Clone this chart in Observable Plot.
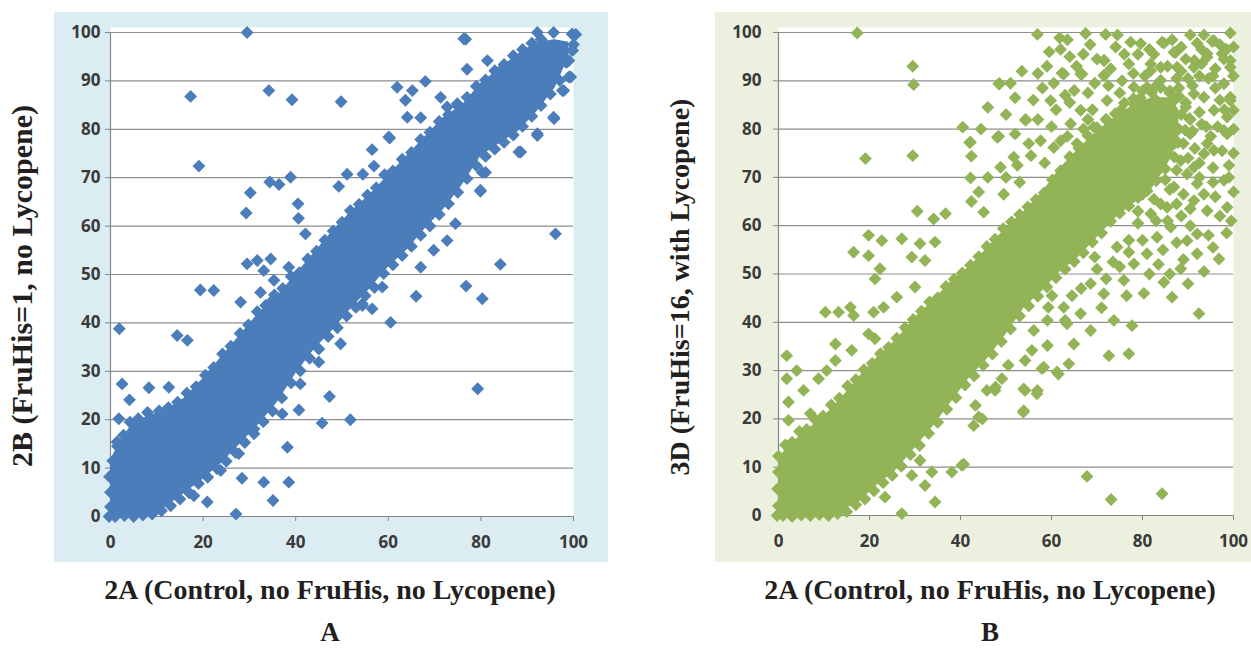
<!DOCTYPE html>
<html>
<head>
<meta charset="utf-8">
<script src="https://cdn.jsdelivr.net/npm/d3@7"></script>
<script src="https://cdn.jsdelivr.net/npm/@observablehq/plot@0.6"></script>
<style>
  html, body { margin: 0; padding: 0; background: #fff; }
  body { position: relative; width: 1251px; height: 648px; overflow: hidden; }
  .panel { position: absolute; }
  #titles { position: absolute; left: 0; top: 0; pointer-events: none; }
</style>
</head>
<body>
<div id="panelA" class="panel" style="left:54px;top:12px"></div>
<div id="panelB" class="panel" style="left:715px;top:12px"></div>
<script>
// Axis ticks shared by both scatter plots
const xTicks = [0, 20, 40, 60, 80, 100];
const yTicks = [0, 10, 20, 30, 40, 50, 60, 70, 80, 90, 100];

// Axis titles and panel letters
const xTitle = "2A (Control, no FruHis, no Lycopene)";
const yTitleA = "2B (FruHis=1, no Lycopene)";
const yTitleB = "3D (FruHis=16, with Lycopene)";
const panelLetters = ["A", "B"];

// Panel A: solid interior of the point cloud (lower / upper edge at each x)
const bandAx  = [0, 2, 5, 9, 12, 16, 20, 24, 28, 32, 36, 40, 44, 48, 52, 56, 60, 64, 68, 72, 76, 80, 84, 88, 92, 96, 99];
const bandAlo = [0, 0, 0, 0, 2, 4.8, 7.7, 11, 15, 19, 23.5, 29.5, 34.5, 38.5, 43, 47, 51.5, 55, 59.5, 63.5, 68.5, 74.5, 77, 79.5, 83.5, 88.5, 95];
const bandAhi = [11.5, 15.5, 19.5, 21, 22, 24.5, 28.5, 33, 37.5, 42, 45.5, 50, 54.5, 59, 63, 66.5, 70.5, 74.5, 78.5, 82.5, 85, 89.5, 92.5, 95.5, 98, 98.5, 98];

// Panel A: genes along the upper and lower rim of the cloud [2A, 2B]
const rimAupper = [
  [0,2],[0,5],[-0.2,8.2],[0.5,11.5],[1.5,14.5],[2.8,16.8],[4.2,19.5],[6,20.2],[8,21.5],[10.5,21.8],[12.5,22.5],[14.5,23.6],[16.5,25.5],[18.5,26.8],
  [20.5,29.2],[22.3,30.8],[24.2,33.6],[26,35.2],[28,37.8],[29.8,39.6],[31.7,42.3],[33.5,43.6],[35.4,45.8],[37.2,47.1],[39,49.6],[40.8,50.4],
  [42.6,53.2],[44.5,54.8],[46.3,57.1],[48.1,59],[50,60.8],[51.8,63.2],[53.7,64.5],[55.5,66.4],[57.4,67.9],[59.2,70.6],[61,71.4],[63,73.8],
  [65,75.2],[67,77.9],[69,79.4],[71,81.6],[73,83],[75,84.8],[77,86.6],[79,88.9],[81,90.2],[83,92.1],[85,93.4],[87,95.2],[89,96.5],[91,97.8],[93,98.6]
];
const rimAlower = [
  [-0.3,0],[1,0],[3,0.2],[5,0],[7,0.3],[9,0.5],[11,1.2],[13,2.2],[15,3.6],[17,4.9],[19,6.8],[21,8.1],[23,9.9],[25,11.4],[27,13.2],[29,15.3],
  [31,17.1],[33,19.6],[35,21.8],[37,24.5],[39,27.6],[41,30.1],[43,32.7],[45,34.6],[47,37.2],[49,39],[51,41.4],[53,43.2],[55,45.6],[57,47.3],
  [59,50.2],[61,52],[63,53.9],[65,55.8],[67,58.1],[69,60],[71,62.4],[73,64.6],[75,67],[77,69.8],[79,72.5],[81,74.4],[83,75.9],[85,77.3],
  [87,78.8],[89,80.6],[91,82.7],[93,84.9],[95,87.3],[97,90.1],[99,94.2],[100,97.5],[100.5,99.6]
];

// Panel A: individual genes away from the core [2A, 2B]
const pointsA = [
  [29.5,100],[17.3,86.8],[34.2,88],[39.2,86.1],[19.1,72.4],[30.2,66.9],[34.4,69.1],[36.4,68.6],[38.9,70.1],[40.5,64.6],[29.3,62.7],[40.6,61.6],
  [76.7,98.6],[49.8,85.7],[61.9,88.7],[65.2,88],[68,89.9],[63.7,86],[64.1,82.5],[67,82.4],[60.3,78.2],[56.5,75.8],[56.9,72.4],[51.1,70.7],[54.5,70.7],[49.3,68.2],[77,92.4],
  [96.1,58.4],[84.2,52.1],[76.8,47.6],[80.3,45],[66,45.5],[60.5,40.1],[79.9,67.2],[81,71.1],[79.3,26.4],
  [99.8,96.3],[99,90.8],[98.3,93.9],[95.8,82.2],[92.2,78.7],[88.6,75.3],[97.6,88],[69.8,55],[72.7,57],[74.5,60.5],[67,51.5],[56.5,42.9],[54.4,43.9],[49.7,35.7],
  [42.1,58.4],[29.5,52.2],[31.7,52.9],[34.6,53.2],[33.1,50.8],[35.3,48.8],[38.5,51.5],[19.4,46.8],[22.3,46.7],[28.1,44.3],[32.4,46.3],[34.6,44.3],
  [1.9,38.8],[14.4,37.4],[16.6,36.4],[2.5,27.4],[8.3,26.6],[12.6,26.7],[4.1,24.1],[1.8,20.2],[1.4,15.4],
  [38.2,14.3],[28.4,7.9],[33.1,7.1],[38.5,7.1],[35.1,3.3],[27.1,0.5],[20.9,3],[45.7,19.3],[51.8,20],[47.3,24.8],[40.7,22],
  [58.7,47.4],[54.4,43.6],[45,31.9],[41,27.4],[37.1,21.2],[31,18.1],[27.7,13],[21.6,12.3],[23.8,9.5],[18,4.3],
  [92.2,100],[95.7,100],[99.7,99.7],[99.7,96.3],[98.6,93.9],[99.4,90.8],[97.9,88],[95.7,82.5],[92.2,79.1],[88.2,75.3],[80.3,71.1],[79.9,67.4],
  [76.3,98.7],[81.4,94.2],[84.2,92.1],[87.1,93.5],[72.7,84.6],[74.9,85.3],[71.3,86.6],[60.1,78.4]
];

// Panel B: solid interior of the point cloud (lower / upper edge at each x)
const bandBx  = [0, 3, 6, 10, 14, 18, 22, 26, 30, 34, 38, 42, 46, 50, 54, 58, 62, 66, 70, 74, 78, 82, 86, 88];
const bandBlo = [0, 0, 0, 0, 1, 3, 6.5, 9.5, 14, 18.5, 23.5, 28.5, 32.5, 37.5, 43, 46.5, 50.5, 53.5, 57.5, 61.5, 64.5, 67.5, 73.5, 78];
const bandBhi = [12, 15, 17.5, 20.5, 24.5, 29, 33, 36.5, 41, 44.5, 48.5, 51.5, 55.5, 59.5, 63, 67, 72, 76, 79.5, 82.5, 85, 86.5, 86.5, 84];

// Panel B: genes along the upper and lower rim of the cloud [2A, 3D]
const rimBupper = [
  [0,2],[-0.2,5.5],[0,9],[0,12.3],[1.5,14.6],[3,15.2],[4.6,17.4],[6.2,17.8],[8,19.9],[9.8,20.6],[11.6,22.9],[13.4,24.3],[15.2,26.8],[17,28.1],
  [18.8,30.2],[20.6,31.5],[22.4,33.5],[24.2,34.8],[26,36.7],[27.8,38.9],[29.6,40.6],[31.4,42.3],[33.2,44.2],[35,45.1],[36.8,47.4],[38.6,48.9],
  [40.4,50.2],[42.2,51.8],[44,53.6],[45.8,55.7],[47.6,57.2],[49.4,59.4],[51.2,60.8],[53,62.3],[54.8,63.9],[56.6,65.4],[58.4,66.8],[60.2,69.5],
  [62,71.4],[64,74.3],[66,76.1],[68,78.6],[70,80.3],[72,82],[74,83.2],[76,85.4],[78,86.3],[80,87.9],[82,87.6],[84,88.6],[86,87.9],[88,86.8],
  [89.5,84.6],[90.3,82.2],[89.4,79.8],[87.8,77.2]
];
const rimBlower = [
  [-0.3,0],[1,0],[3,-0.2],[5,0.1],[7,0],[9,0.2],[11,0],[13,0.4],[15,0.8],[17,2.2],[19,3.4],[21,5.1],[23,6.8],[25,8.3],[27,10.2],[29,12.6],
  [31,14.5],[33,17],[35,19.3],[37,22],[39,24.4],[41,27],[43,28.9],[45,31.1],[47,33.4],[49,36],[51,38.6],[53,41.3],[55,43.4],[57,45.4],
  [59,47.3],[61,49.2],[63,51],[65,52.6],[67,54.4],[69,56.6],[71,58.5],[73,60.9],[75,62.6],[77,64.1],[79,65.8],[81,67.2],[83,69.3],
  [85,71.8],[87,74.2],[89,77],[91,79.6]
];

// Panel B: individual genes away from the core [2A, 3D]
const pointsB = [
  [17.3,99.9],[29.5,93],[29.7,89.2],[19.1,73.9],[29.5,74.5],[40.5,80.4],[42,77.2],[42.4,74.4],[42.2,69.9],[42.4,65],[30.5,63],[34.1,61.4],[36.7,62.5],
  [56.9,99.6],[61.8,98.9],[71.9,99.6],[74.1,97],[77.4,98],[79.6,97.7],[84.7,97.8],[86.9,95.9],[92,97.8],[95.3,98.2],[99.3,99.9],[99.3,94.2],[97.5,95.6],
  [94.2,94.9],[91.4,94.2],[71.6,94.2],[71.6,91.1],[62.3,91.6],[66.4,91.4],[48.4,89.4],[59.8,85.9],[54.3,81.8],[48.1,78.3],[81.8,92.1],[78.1,88.7],[87.6,92.8],
  [97.9,69.4],[98.6,63.8],[96.8,53.1],[92.4,41.8],[92,54.2],[89.8,56.9],[88.4,51.1],[84.7,48.3],[86.5,45.2],[77.7,39.3],[73.7,40.4],[77,33.5],[72.6,33.1],
  [80.3,46],[68.6,38.3],[64.9,35.5],[59.1,35.2],[63.8,31.4],[61.2,29.7],[58.3,30.7],[53.9,26.2],[56.9,25.9],[53.9,21.7],[47.7,26.6],[63.4,39.7],
  [92,68.7],[93.5,74.9],[94.2,77],[97.9,79.7],[99.3,86.6],[100,83.9],
  [73.1,3.3],[67.8,8.1],[84.3,4.5],[40.7,10.6],[42.9,18.6],[44.8,20],[43.3,22.8],
  [45.1,62.8],[19.8,58],[22.7,56.9],[16.5,54.5],[19.8,53.8],[27.1,57.3],[31.1,56.3],[34.4,56.6],[22.3,51.1],[21.2,49],[29.3,53.5],[32.2,52.8],
  [10.3,42.1],[13.2,42.1],[15.8,43.1],[16.5,41.4],[20.9,42.1],[23.1,43.1],[26,45.2],[30,47.3],[19.8,37.6],[21.2,36.6],[12.5,35.5],[16.1,34.2],
  [1.8,33.1],[4,30],[1.8,28.3],[8.8,28.3],[10.6,30],[12.5,32.1],[5.5,25.9],[2.2,23.5],[2.2,19.7],[7,21.1],
  [61.5,29.3],[57.9,30.4],[54.2,25.9],[56.8,25.2],[53.8,21.4],[55.7,34.2],[54.2,32.1],[50.5,31.1],[49.1,28.3],[45.8,25.9],[47.6,25.9],[44,20.4],
  [40.3,10.4],[38.1,9],[33.7,9],[32.2,6.2],[34.4,2.8],[27.1,0.4],[29.3,8.3],[31.1,11.4],[23.4,3.8],[60.1,45.5],[59.3,43.1],[63,40.4],
  [84.3,98],[87.3,95.9],[95.7,98.3],[71.5,94.2],[62.7,91.4],[66.7,91.4],[71.5,91.1],[48.6,89.4],[54.3,82],[48.4,78.5],[42.2,77.3],[51.7,74.2],[48.8,72.1],
  [57.6,77.6],[60.5,76.2],[81.8,93.5],[84,92.8],[91.3,92.8],[94.2,95.6],[97.9,94.5],[99.3,92.8],[97.9,89.4],[99.3,85.9],[95.7,83.9],[98.6,82.5],[98.6,79],
  [95.7,75.6],[91.3,72.1],[88.4,73.5],[89.8,70.7],[86.2,80.4],[90.5,79],[86.9,85.9],[91.3,87.3],[93.5,86.6],[81,88.7],[84,90.1],[78.1,85.2],[75.2,83.9],
  [72.2,85.9],[69.3,80.4],[73.7,79.7],[78.1,79],[82.5,77.6],[84,74.2],[79.6,73.5],[75.2,74.2],[71.5,74.9],[66.4,83.9],[64.2,81.1],[62,77.6],[65.6,77],
  [86.9,68],[91.3,65.2],[94.2,63.1],[81,69.4],[84,64.5],
  [81,54.2],[83.2,57.6],[86.2,59.7],[78.1,52.1],[75.9,48.7],[68.6,48],[71.5,45.9],[66.4,41.8],[62.7,43.1],[59.1,40.4],[56.1,38.3],[85.4,63.8],[81.8,62.5],
  [92,58.3],[78.8,70.7],[75.9,68],[72.2,71.4],[68.6,70],[64.9,63.8],[70.8,60.4],[74.4,55.6],[71.5,65.2],
  [56,86],[58,88.5],[60.5,89.5],[63,87],[65,88],[68,87.5],[69.5,89.5],[73,92.5],[75.5,90],[77,93.5],[79,95.5],[80.5,91],[82.5,95.5],[85.5,93],
  [88.5,97],[89.5,94.5],[90,90.5],[92.5,91],[93,96.5],[96,92.5],[97,97.5],[98.5,96.5],[100,97],[100,91],[96,88.5],[94.5,90.5],[88,88.5],[83,86],
  [80,83],[77,81.5],[74,77],[70.5,77],[67,80],[63.5,78.5],[60,80.5],[57,82],[52,79],[50,83],[46,84.5],[44.5,80],[52,86.5],[85,82.5],[88.5,83],
  [92.5,83.5],[96.5,80.5],[100,80],[94,80.5],[91.5,76],[87,77],[83,71],[86,67.5],[89,66.5],[92.5,70],[95.5,69],[99,72.5],[96,66],[100,67],
  [88.5,62],[83,61],[79,60.5],[77,57],[90.5,60],[94.5,58],[98.5,58.5],[93.5,50.5],[90,48],[81.5,50],[75,51.5],[70,51],[66.5,47],[72,49],
  [67.5,66],[63,67.5],[66,71.5],[70,73],[74,71],[80,66.5],[77.5,76.5],[81,80.5],[84.5,85],[79.5,86.5],[75,87.5],[72.5,89],[69,84],[70,94.5],
  [67,95.5],[64,95],[59,93],[53.5,92],[51,89.5],[55,77],[58.5,73],[46,70],[44,67],[49.5,66.5],[53,69],
  [62,96.5],[65.5,93],[68.5,97.5],[76,95.5],[78,91.5],[81.5,96.5],[83,89],[86,87.5],[87.5,90.5],[89.5,85.5],[91,89],[93,93.5],[95.5,91],[97,86],
  [98,84],[95,78.5],[93,81],[90.5,82],[88,80],[85.5,78],[82,74.5],[80.5,71],[78,68],[76.5,65.5],[79,63],[82.5,65.5],[85,69.5],[87.5,71.5],
  [90,74],[92.5,73],[95.5,72],[97.5,75.5],[100,75],[99,70],[97,62],[93.5,66.5],[90.5,63.5],[87.5,64.5],[85.5,61],[87.5,56.5],[84.5,55],[80,57],
  [77,54.5],[73.5,52.5],[69.5,53.5],[95.5,55.5],[99.5,61],[89,53],[83.5,52],[86,50],[76.5,45.5],[71,43],[64.5,45.5],[88.5,92],[86.5,98.5],
  [90.5,99.5],[93.5,99.5],[74.5,99.5],[67.5,99.8],[63.5,98.5],[59.5,96],[57,91.5],[61,84],[64,85.5],[68,82],[72,82],[55.5,74.5],[52.5,72.5],[50,70]
];

const toBand = (xs, lo, hi) => xs.map((x, i) => ({x, lo: lo[i], hi: hi[i]}));
const toPoints = (...lists) => lists.flat().map(([x, y]) => ({x, y}));

const axisColor = "#868686";
const gridColor = "#8e8e8e";
const labelColor = "#3a3a3a";

function scatterPanel({points, band, color, background, width, marginLeft, marginRight, marginBottom, yPad}) {
  return Plot.plot({
    width,
    height: 550,
    marginLeft,
    marginRight,
    marginTop: 20,
    marginBottom,
    style: {
      background,
      color: labelColor,
      fontFamily: "'Open Sans', 'DejaVu Sans', sans-serif",
      fontSize: "17px",
      fontWeight: "bold",
      overflow: "visible"
    },
    x: {domain: [0, 100], label: null},
    y: {domain: [0, 100], label: null},
    marks: [
      Plot.frame({fill: "white", stroke: "none", insetTop: -5}),
      Plot.gridY(yTicks.filter((d) => d > 0), {stroke: gridColor, strokeOpacity: 1, strokeWidth: 1.2}),
      Plot.axisY(yTicks, {tickSize: 5, tickPadding: yPad, stroke: axisColor, fill: labelColor, fontSize: 17, fontWeight: "bold"}),
      Plot.axisX(xTicks, {tickSize: 5, tickPadding: 14, stroke: axisColor, fill: labelColor, fontSize: 17, fontWeight: "bold"}),
      Plot.ruleX([0], {stroke: axisColor, strokeWidth: 1.2}),
      Plot.ruleY([0], {stroke: axisColor, strokeWidth: 1.2}),
      Plot.areaY(band, {x: "x", y1: "lo", y2: "hi", fill: color}),
      Plot.dot(points, {x: "x", y: "y", symbol: "diamond2", r: 5.8, fill: color, stroke: "none"})
    ]
  });
}

document.getElementById("panelA").append(scatterPanel({
  points: toPoints(rimAupper, rimAlower, pointsA),
  band: toBand(bandAx, bandAlo, bandAhi),
  color: "#4a7dba",
  background: "#dbecf3",
  width: 554,
  marginLeft: 56,
  marginRight: 35,
  marginBottom: 46,
  yPad: 5
}));

document.getElementById("panelB").append(scatterPanel({
  points: toPoints(rimBupper, rimBlower, pointsB),
  band: toBand(bandBx, bandBlo, bandBhi),
  color: "#92b456",
  background: "#ecf1df",
  width: 536,
  marginLeft: 63,
  marginRight: 18,
  marginBottom: 47,
  yPad: 12
}));

// Serif axis titles and panel letters around the two plots
const titles = d3.select("body").append("svg")
  .attr("id", "titles")
  .attr("width", 1251)
  .attr("height", 648)
  .style("font-family", "'Liberation Serif', 'Times New Roman', serif")
  .style("font-weight", "bold")
  .style("fill", "#231f20");

[[330, xTitle, panelLetters[0]], [990, xTitle, panelLetters[1]]].forEach(([cx, t, letter]) => {
  titles.append("text").attr("x", cx).attr("y", 599).attr("text-anchor", "middle")
    .style("font-size", "28px").text(t);
  titles.append("text").attr("x", cx).attr("y", 641).attr("text-anchor", "middle")
    .style("font-size", "27px").text(letter);
});

titles.append("text")
  .attr("transform", "translate(32,286) rotate(-90)")
  .attr("text-anchor", "middle")
  .style("font-size", "30px")
  .text(yTitleA);

titles.append("text")
  .attr("transform", "translate(689,287) rotate(-90)")
  .attr("text-anchor", "middle")
  .style("font-size", "28px")
  .text(yTitleB);
</script>
</body>
</html>
